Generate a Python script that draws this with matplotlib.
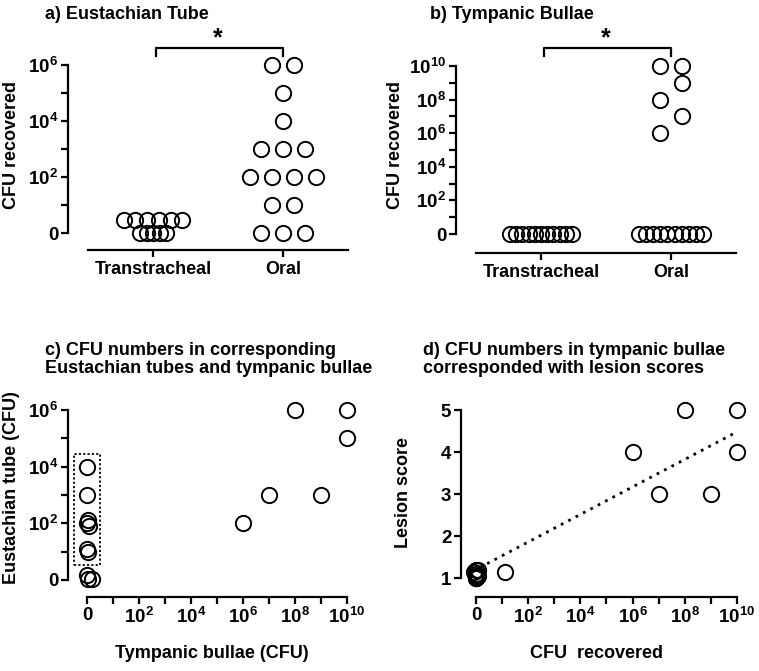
import numpy as np
import matplotlib
matplotlib.use('Agg')
import matplotlib.pyplot as plt
from matplotlib.ticker import FixedLocator, NullFormatter

# ---- data (zero CFU is drawn at 1 on the log axes, labelled "0") ----
groups = ['Transtracheal', 'Oral']

et_trans = [3, 3, 3, 3, 3, 3, 1, 1, 1, 1, 1]
et_oral = [1e6, 1e6, 1e5, 1e4, 1e3, 1e3, 1e3, 1e2, 1e2, 1e2, 1e2, 1e1, 1e1, 1, 1, 1]
tb_trans = [1] * 11
tb_oral = [1e10, 1e10, 1e9, 1e8, 1e7, 1e6] + [1] * 10

# c) paired samples: tympanic bullae (x) vs eustachian tube (y)
pair_tb = [1e6, 1e7, 1e8, 1e9, 1e10, 1e10, 1, 1, 1.1, 1, 1.2, 1, 1.1, 1, 1.1, 1.55]
pair_et = [1e2, 1e3, 1e6, 1e3, 1e6, 1e5, 1e4, 1e3, 130, 100, 80, 12, 10, 1.5, 1.1, 1.05]
box_x = [10 ** -0.5, 10 ** 0.5]
box_y = [10 ** 0.53, 10 ** 4.45]

# d) tympanic bullae CFU vs lesion score
lesion_tb = [1e6, 1e7, 1e8, 1e9, 1e10, 1e10, 13, 1, 1, 1, 1.2, 1, 0.85, 1.2, 1, 1]
lesion_score = [4, 3, 5, 3, 5, 4, 1.15, 1.0, 1.0, 1.05, 1.05, 1.1, 1.15, 1.2, 1.2, 1.0]
fit_x = [1.4, 1e10]
fit_y = [1.25, 4.48]

log_ticks_6 = [1, 1e2, 1e4, 1e6]
log_labels_6 = ['0', '$10^{2}$', '$10^{4}$', '$10^{6}$']
log_ticks_10 = [1, 1e2, 1e4, 1e6, 1e8, 1e10]
log_labels_10 = ['0', '$10^{2}$', '$10^{4}$', '$10^{6}$', '$10^{8}$', '$10^{10}$']
score_ticks = [1, 2, 3, 4, 5]

plt.rcParams['font.family'] = ['Liberation Sans', 'DejaVu Sans']
plt.rcParams['font.weight'] = 'bold'
plt.rcParams['mathtext.fontset'] = 'custom'
plt.rcParams['mathtext.rm'] = 'Liberation Sans:bold'
plt.rcParams['mathtext.it'] = 'Liberation Sans:bold'
plt.rcParams['mathtext.bf'] = 'Liberation Sans:bold'

W, H = 759, 671
FS = 13
TICK_FS = 13.5
MARK = dict(marker='o', ms=11, mfc='none', mec='black', mew=1.4, ls='none', clip_on=False)


def px_rect(left, top, right, bottom):
    return [left / W, 1 - bottom / H, (right - left) / W, (bottom - top) / H]


def spread(vals, step, row_steps=None, stagger=False):
    """Prism-like column scatter: spread equal values sideways."""
    vals = np.asarray(vals, float)
    off = np.zeros(len(vals))
    side = 1
    for v in sorted(np.unique(vals), reverse=True):
        idx = np.where(vals == v)[0]
        n = len(idx)
        s = row_steps.get(v, step) if row_steps else step
        if n == 1 and stagger and v > 1:
            off[idx] = side * step / 2
            side = -side
        else:
            off[idx] = (np.arange(n) - (n - 1) / 2) * s
    return off


def prism_axes(ax):
    for s in ['top', 'right']:
        ax.spines[s].set_visible(False)
    for s in ['left', 'bottom']:
        ax.spines[s].set_linewidth(1.6)
    ax.tick_params(which='both', direction='out', length=5, width=1.6,
                   labelsize=TICK_FS, pad=2)


def log_minor(ax, axis, top):
    minor = [10.0 ** k for k in range(1, int(np.log10(top)), 2)]
    a = ax.yaxis if axis == 'y' else ax.xaxis
    a.set_minor_locator(FixedLocator(minor))
    a.set_minor_formatter(NullFormatter())


def column_panel(ax, trans, oral, ylo, yhi, ticks, labels, trans_opts, oral_opts):
    prism_axes(ax)
    ax.set_yscale('log')
    ax.plot(0 + spread(trans, **trans_opts), trans, **MARK)
    ax.plot(1 + spread(oral, **oral_opts), oral, **MARK)
    ax.set_xlim(-0.654, 1.5)
    ax.set_ylim(ylo, yhi)
    ax.set_xticks([0, 1])
    ax.set_xticklabels(groups, fontsize=FS)
    ax.tick_params(axis='x', pad=3)
    ax.set_yticks(ticks)
    ax.set_yticklabels(labels)
    log_minor(ax, 'y', ticks[-1])
    ax.spines['left'].set_bounds(1, ticks[-1])
    ax.spines['bottom'].set_bounds(-0.5, 1.5)
    # significance bracket
    tr = ax.get_xaxis_transform()
    ax.plot([0.02, 0.02, 1, 1], [0.962, 1, 1, 0.962], color='black', lw=1.6,
            transform=tr, clip_on=False)
    ax.text(0.5, 0.99, '*', transform=tr, ha='center', va='bottom',
            fontsize=18, fontweight='bold')


fig = plt.figure(figsize=(W / 100, H / 100), dpi=100)

# a) Eustachian tube
ax_a = fig.add_axes(px_rect(68, 48, 348, 250))
column_panel(ax_a, et_trans, et_oral, 10 ** -0.6, 10 ** 6.6, log_ticks_6, log_labels_6,
             dict(step=0.09, row_steps={1.0: 0.05}), dict(step=0.17))

# b) Tympanic bullae
ax_b = fig.add_axes(px_rect(456, 48, 736, 253))
column_panel(ax_b, tb_trans, tb_oral, 10 ** -1.13, 10 ** 11.07, log_ticks_10, log_labels_10,
             dict(step=0.048), dict(step=0.17, row_steps={1.0: 0.054}, stagger=True))

# c) paired CFU
ax_c = fig.add_axes(px_rect(68, 401.5, 349.6, 597))
prism_axes(ax_c)
ax_c.set_xscale('log')
ax_c.set_yscale('log')
ax_c.plot(pair_tb, pair_et, **MARK)
ax_c.plot([box_x[0], box_x[1], box_x[1], box_x[0], box_x[0]],
          [box_y[0], box_y[0], box_y[1], box_y[1], box_y[0]],
          color='black', lw=1.3, dashes=(1.2, 1.2), clip_on=False)
ax_c.set_xlim(10 ** -0.731, 10 ** 10.1)
ax_c.set_ylim(10 ** -0.6, 10 ** 6.3)
ax_c.set_xticks(log_ticks_10)
ax_c.set_xticklabels(log_labels_10)
ax_c.set_yticks(log_ticks_6)
ax_c.set_yticklabels(log_labels_6)
log_minor(ax_c, 'x', 1e10)
log_minor(ax_c, 'y', 1e6)
ax_c.spines['left'].set_bounds(1, 1e6)
ax_c.spines['bottom'].set_bounds(1, 1e10)

# d) lesion scores
ax_d = fig.add_axes(px_rect(461, 401.6, 739.6, 597))
prism_axes(ax_d)
ax_d.set_xscale('log')
ax_d.plot(lesion_tb, lesion_score, **MARK)
ax_d.plot(fit_x, fit_y, color='black', lw=2, dashes=(1, 2.0))
ax_d.set_xlim(10 ** -0.575, 10 ** 10.1)
ax_d.set_ylim(0.548, 5.2)
ax_d.set_xticks(log_ticks_10)
ax_d.set_xticklabels(log_labels_10)
ax_d.set_yticks(score_ticks)
log_minor(ax_d, 'x', 1e10)
ax_d.spines['left'].set_bounds(1, 5)
ax_d.spines['bottom'].set_bounds(1, 1e10)

# titles and axis labels
fig.text(45 / W, 1 - 19 / H, 'a) Eustachian Tube', fontsize=FS, ha='left', va='baseline')
fig.text(430 / W, 1 - 19 / H, 'b) Tympanic Bullae', fontsize=FS, ha='left', va='baseline')
fig.text(45 / W, 1 - 355 / H, 'c) CFU numbers in corresponding', fontsize=FS, va='baseline')
fig.text(45 / W, 1 - 373 / H, 'Eustachian tubes and tympanic bullae', fontsize=FS, va='baseline')
fig.text(423 / W, 1 - 355 / H, 'd) CFU numbers in tympanic bullae', fontsize=FS, va='baseline')
fig.text(423 / W, 1 - 373 / H, 'corresponded with lesion scores', fontsize=FS, va='baseline')

fig.text(12 / W, 1 - 145 / H, 'CFU recovered', fontsize=FS, rotation=90, ha='center', va='center')
fig.text(395 / W, 1 - 145 / H, 'CFU recovered', fontsize=FS, rotation=90, ha='center', va='center')
fig.text(12 / W, 1 - 488 / H, 'Eustachian tube (CFU)', fontsize=FS, rotation=90, ha='center', va='center')
fig.text(404 / W, 1 - 492 / H, 'Lesion score', fontsize=FS, rotation=90, ha='center', va='center')
fig.text(212 / W, 1 - 653 / H, 'Tympanic bullae (CFU)', fontsize=FS, ha='center', va='center')
fig.text(597 / W, 1 - 653 / H, 'CFU  recovered', fontsize=FS, ha='center', va='center')

fig.savefig('out.png', dpi=100)
